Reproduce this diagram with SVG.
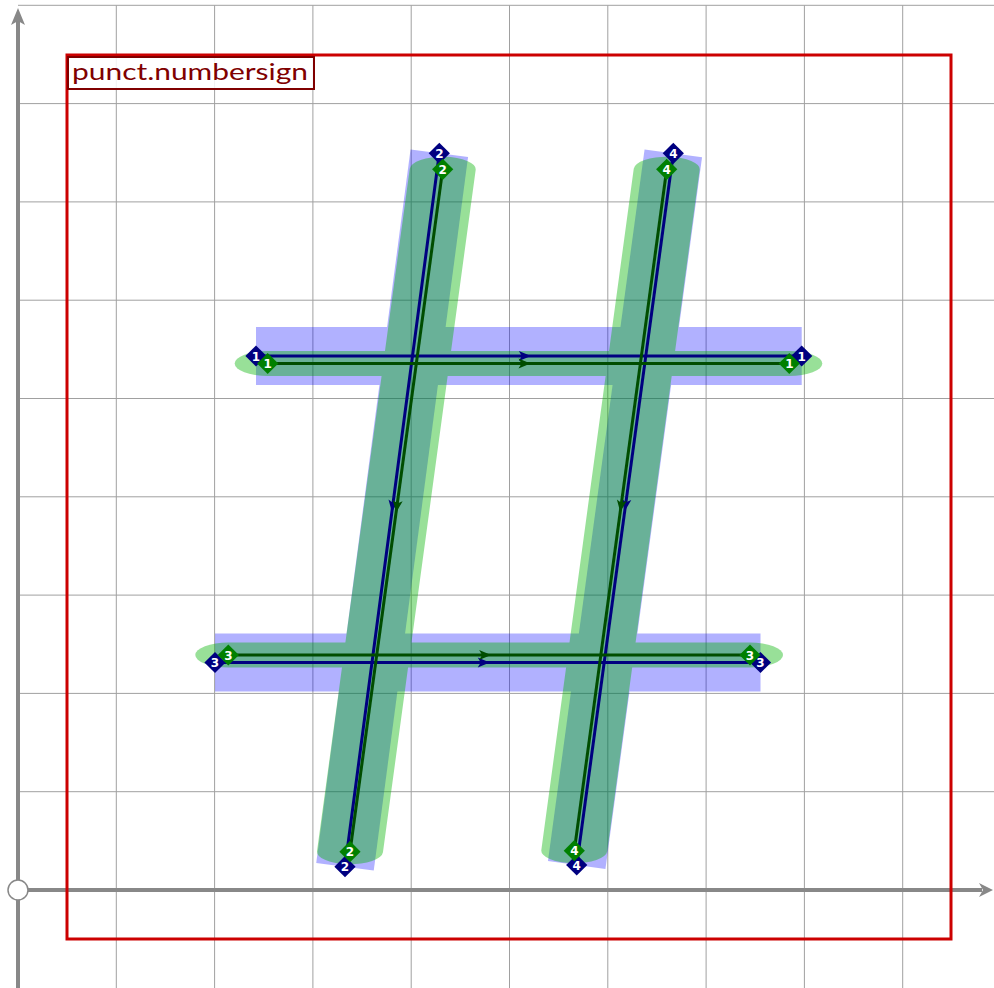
<svg xmlns="http://www.w3.org/2000/svg" width="994" height="988" viewBox="0 0 994 988">
<defs>
<style>
.grid line{stroke:#a0a0a0;stroke-width:1}
.axis{stroke:#888;stroke-width:4;fill:none}
.axhead{fill:#888}
.bw line{stroke:#0000ff;stroke-width:58;stroke-linecap:butt}
.gw line{stroke:#00b200;stroke-width:66;stroke-linecap:round}
.bl{stroke:#000080;stroke-width:3;fill:none;marker-mid:url(#ab)}
.gl{stroke:#004d00;stroke-width:3;fill:none;marker-mid:url(#ag)}
.pb rect{fill:#000080}
.pg rect{fill:#008000}
.pt text{fill:#fff;font-family:"DejaVu Sans",sans-serif;font-weight:bold;font-size:12px;text-anchor:middle}
</style>
<marker id="ab" viewBox="-12 -6 14 12" refX="0" refY="0" markerWidth="14" markerHeight="12" markerUnits="userSpaceOnUse" orient="auto"><path d="M2,0 L-10,-5 L-7,0 L-10,5 Z" fill="#000080"/></marker>
<marker id="ag" viewBox="-12 -6 14 12" refX="0" refY="0" markerWidth="14" markerHeight="12" markerUnits="userSpaceOnUse" orient="auto"><path d="M2,0 L-10,-5 L-7,0 L-10,5 Z" fill="#004d00"/></marker>
</defs>
<rect width="994" height="988" fill="#fff"/>
<g class="grid">
<line x1="116.3" y1="5.3" x2="116.3" y2="988"/>
<line x1="214.6" y1="5.3" x2="214.6" y2="988"/>
<line x1="312.9" y1="5.3" x2="312.9" y2="988"/>
<line x1="411.2" y1="5.3" x2="411.2" y2="988"/>
<line x1="509.5" y1="5.3" x2="509.5" y2="988"/>
<line x1="607.8" y1="5.3" x2="607.8" y2="988"/>
<line x1="706.1" y1="5.3" x2="706.1" y2="988"/>
<line x1="804.4" y1="5.3" x2="804.4" y2="988"/>
<line x1="902.7" y1="5.3" x2="902.7" y2="988"/>
<line x1="18" y1="791.7" x2="994" y2="791.7"/>
<line x1="18" y1="693.4" x2="994" y2="693.4"/>
<line x1="18" y1="595.1" x2="994" y2="595.1"/>
<line x1="18" y1="496.8" x2="994" y2="496.8"/>
<line x1="18" y1="398.5" x2="994" y2="398.5"/>
<line x1="18" y1="300.2" x2="994" y2="300.2"/>
<line x1="18" y1="201.9" x2="994" y2="201.9"/>
<line x1="18" y1="103.6" x2="994" y2="103.6"/>
<line x1="18" y1="5.3" x2="994" y2="5.3"/>
</g>
<g id="axes">
<line class="axis" x1="18" y1="988" x2="18" y2="20"/>
<path class="axhead" d="M18,8 L25,25 L18,21 L11,25 Z"/>
<line class="axis" x1="18" y1="890" x2="982" y2="890"/>
<path class="axhead" d="M993,890 L979,883 L983,890 L979,897 Z"/>
<circle cx="18" cy="890" r="10" fill="#fff" stroke="#888" stroke-width="1.5"/>
</g>
<rect id="frame" x="67" y="55" width="884" height="884" fill="none" stroke="#cc0000" stroke-width="3"/>
<g id="label">
<rect x="68" y="57" width="246" height="32" fill="#fff" fill-opacity="0.85" stroke="#800000" stroke-width="2"/>
<text x="72" y="80" font-family="Lato, 'Open Sans', sans-serif" font-size="23" fill="#800000" textLength="236" lengthAdjust="spacingAndGlyphs">punct.numbersign</text>
</g>
<g class="bw" opacity="0.3">
<line x1="256" y1="356" x2="801.7" y2="356"/>
<line x1="215" y1="662.5" x2="760.5" y2="662.5"/>
<line x1="439.3" y1="153.3" x2="345" y2="866.7"/>
<line x1="673.3" y1="153.3" x2="576.7" y2="865"/>
</g>
<g class="gw" opacity="0.4">
<g transform="scale(1,0.37879)">
<line x1="267.7" y1="959.63" x2="789.3" y2="959.63"/>
<line x1="228.3" y1="1729.2" x2="750" y2="1729.2"/>
<line x1="442.7" y1="446.95" x2="350" y2="2248.5"/>
<line x1="666.7" y1="446.95" x2="574.3" y2="2245.8"/>
</g>
</g>
<g id="connectors">
<path class="bl" d="M256,356 L528.85,356 L801.7,356"/>
<path class="bl" d="M215,662.5 L487.75,662.5 L760.5,662.5"/>
<path class="bl" d="M439.3,153.3 L392.15,510 L345,866.7"/>
<path class="bl" d="M673.3,153.3 L625,509.15 L576.7,865"/>
<path class="gl" d="M267.7,363.5 L528.5,363.5 L789.3,363.5"/>
<path class="gl" d="M228.3,655 L489.15,655 L750,655"/>
<path class="gl" d="M442.7,169.3 L396.35,510.5 L350,851.7"/>
<path class="gl" d="M666.7,169.3 L620.5,510 L574.3,850.7"/>
</g>
<g id="n-b1a" class="pt pb" transform="translate(256,356)"><rect x="-7.5" y="-7.5" width="15" height="15" transform="rotate(45)"/><text y="4.5">1</text></g>
<g id="n-b1b" class="pt pb" transform="translate(801.7,356)"><rect x="-7.5" y="-7.5" width="15" height="15" transform="rotate(45)"/><text y="4.5">1</text></g>
<g id="n-b3a" class="pt pb" transform="translate(215,662.5)"><rect x="-7.5" y="-7.5" width="15" height="15" transform="rotate(45)"/><text y="4.5">3</text></g>
<g id="n-b3b" class="pt pb" transform="translate(760.5,662.5)"><rect x="-7.5" y="-7.5" width="15" height="15" transform="rotate(45)"/><text y="4.5">3</text></g>
<g id="n-b2a" class="pt pb" transform="translate(439.3,153.3)"><rect x="-7.5" y="-7.5" width="15" height="15" transform="rotate(45)"/><text y="4.5">2</text></g>
<g id="n-b2b" class="pt pb" transform="translate(345,866.7)"><rect x="-7.5" y="-7.5" width="15" height="15" transform="rotate(45)"/><text y="4.5">2</text></g>
<g id="n-b4a" class="pt pb" transform="translate(673.3,153.3)"><rect x="-7.5" y="-7.5" width="15" height="15" transform="rotate(45)"/><text y="4.5">4</text></g>
<g id="n-b4b" class="pt pb" transform="translate(576.7,865)"><rect x="-7.5" y="-7.5" width="15" height="15" transform="rotate(45)"/><text y="4.5">4</text></g>
<g id="n-g1a" class="pt pg" transform="translate(267.7,363.5)"><rect x="-7.5" y="-7.5" width="15" height="15" transform="rotate(45)"/><text y="4.5">1</text></g>
<g id="n-g1b" class="pt pg" transform="translate(789.3,363.5)"><rect x="-7.5" y="-7.5" width="15" height="15" transform="rotate(45)"/><text y="4.5">1</text></g>
<g id="n-g3a" class="pt pg" transform="translate(228.3,655)"><rect x="-7.5" y="-7.5" width="15" height="15" transform="rotate(45)"/><text y="4.5">3</text></g>
<g id="n-g3b" class="pt pg" transform="translate(750,655)"><rect x="-7.5" y="-7.5" width="15" height="15" transform="rotate(45)"/><text y="4.5">3</text></g>
<g id="n-g2a" class="pt pg" transform="translate(442.7,169.3)"><rect x="-7.5" y="-7.5" width="15" height="15" transform="rotate(45)"/><text y="4.5">2</text></g>
<g id="n-g2b" class="pt pg" transform="translate(350,851.7)"><rect x="-7.5" y="-7.5" width="15" height="15" transform="rotate(45)"/><text y="4.5">2</text></g>
<g id="n-g4a" class="pt pg" transform="translate(666.7,169.3)"><rect x="-7.5" y="-7.5" width="15" height="15" transform="rotate(45)"/><text y="4.5">4</text></g>
<g id="n-g4b" class="pt pg" transform="translate(574.3,850.7)"><rect x="-7.5" y="-7.5" width="15" height="15" transform="rotate(45)"/><text y="4.5">4</text></g>
</svg>
